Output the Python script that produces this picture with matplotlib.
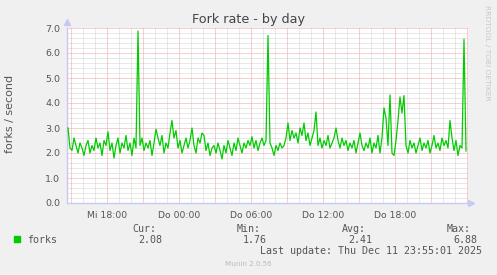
import matplotlib
matplotlib.use("Agg")
import matplotlib.pyplot as plt
import numpy as np

# ---- data -------------------------------------------------------------
title = "Fork rate - by day"
ylabel = "forks / second"
series_name = "forks"
# 10-minute samples, last sample at Thu 23:55 (hours since Wed 00:00)
last_time_h = 47 + 55 / 60
sample_step_h = 1 / 6
forks = [
    3.0, 2.2, 2.1, 2.6, 2.3, 2.0, 2.4, 2.2, 1.9, 2.3,
    2.5, 2.0, 2.3, 2.1, 2.6, 2.2, 2.4, 1.9, 2.5, 2.3,
    2.85, 2.1, 2.4, 1.8, 2.3, 2.6, 2.0, 2.4, 2.2, 2.7,
    2.1, 2.4, 1.9, 2.6, 2.2, 6.88, 2.3, 2.6, 2.1, 2.4,
    2.2, 2.5, 1.9, 2.4, 2.95, 2.6, 2.3, 2.7, 2.0, 2.4,
    2.2, 2.8, 3.3, 2.6, 2.9, 2.2, 2.5, 2.0, 2.3, 2.6,
    2.2, 2.5, 3.0, 2.3, 2.0, 2.6, 2.4, 2.8, 2.7, 2.1,
    2.4, 1.9, 2.2, 2.3, 2.0, 2.4, 2.1, 1.76, 2.3, 2.0,
    2.5, 2.2, 1.9, 2.4, 2.1, 2.6, 2.3, 2.0, 2.4, 2.2,
    2.5, 2.3, 2.65, 2.2, 2.5, 2.1, 2.4, 2.6, 2.3, 2.5,
    6.7, 2.4, 2.2, 1.9, 2.3, 2.1, 2.4, 2.2, 2.3, 2.6,
    3.2, 2.5, 2.9, 2.6, 2.8, 2.4, 3.0, 2.7, 3.2, 2.5,
    2.8, 2.3, 2.6, 2.9, 3.64, 2.3, 2.6, 2.2, 2.5, 2.3,
    2.7, 2.2, 2.4, 2.6, 3.0, 2.5, 2.2, 2.6, 2.3, 2.5,
    2.1, 2.4, 2.2, 2.5, 2.0, 2.4, 2.8, 2.3, 2.1, 2.4,
    2.2, 2.6, 2.0, 2.4, 2.2, 2.7, 2.0, 2.6, 3.8, 3.4,
    2.3, 4.32, 2.0, 1.9, 2.5, 3.3, 4.24, 3.6, 4.3, 2.3,
    2.0, 2.5, 2.2, 2.4, 2.0, 2.3, 2.6, 2.1, 2.4, 2.2,
    2.5, 2.0, 2.3, 2.7, 2.2, 2.4, 2.1, 2.6, 2.3, 2.5,
    2.2, 3.3, 2.6, 2.1, 2.5, 1.9, 2.3, 2.2, 6.55, 2.08,
]
x_tick_hours = [18, 24, 30, 36, 42]
x_tick_labels = ["Mi 18:00", "Do 00:00", "Do 06:00", "Do 12:00", "Do 18:00"]
y_ticks = [0, 1, 2, 3, 4, 5, 6, 7]
stat_labels = ["Cur:", "Min:", "Avg:", "Max:"]
stat_values = ["2.08", "1.76", "2.41", "6.88"]
last_update = "Last update: Thu Dec 11 23:55:01 2025"
footer = "Munin 2.0.56"
side_text = "RRDTOOL / TOBI OETIKER"

# ---- figure -----------------------------------------------------------
W, H = 497, 275
fig = plt.figure(figsize=(W / 100, H / 100), dpi=100, facecolor="#F0F0F0")
L, R, T, B = 67, 468, 28, 203
ax = fig.add_axes([L / W, 1 - B / H, (R - L) / W, (B - T) / H])
ax.set_facecolor("white")

n = len(forks)
t = np.array([last_time_h - (n - 1 - i) * sample_step_h for i in range(n)])
x0 = 18 - (107 - L) / 12
x1 = x0 + (R - L) / 12
ax.set_xlim(x0, x1)
ax.set_ylim(0, 7)

txt = "#555555"
minor_c = "#D2D2D2"
major_c = "#F0A0A0"
dot = (0, (1, 1))

# grid lines
for yv in np.arange(0, 7.01, 0.2):
    if abs(yv - round(yv)) > 1e-6:
        ax.axhline(yv, color=minor_c, lw=0.72, ls=dot, zorder=1)
for hv in range(int(np.ceil(x0)), int(x1) + 1):
    if hv % 3 != 0:
        ax.axvline(hv, color=minor_c, lw=0.72, ls=dot, zorder=1)
for yv in y_ticks[1:]:
    ax.axhline(yv, color=major_c, lw=0.72, ls=dot, zorder=2)
for hv in range(int(np.ceil(x0)), int(x1) + 1):
    if hv % 3 == 0:
        ax.axvline(hv, color=major_c, lw=0.72, ls=dot, zorder=2)

ax.plot(t, forks, color="#00CC00", lw=0.9, zorder=5)

# axes styling
for s in ["top", "right"]:
    ax.spines[s].set_visible(False)
for s in ["left", "bottom"]:
    ax.spines[s].set_color("#C8C8F4")
    ax.spines[s].set_linewidth(1.0)
ax.plot([0], [1.035], marker="^", color="#C8C8F4", ms=4, transform=ax.transAxes, clip_on=False)
ax.plot([1.008], [0], marker=">", color="#C8C8F4", ms=4, transform=ax.transAxes, clip_on=False)

ax.set_xticks(x_tick_hours)
ax.set_xticklabels(x_tick_labels, fontsize=6.7, color=txt)
ax.set_yticks(y_ticks)
ax.set_yticklabels([f"{v:.1f}" for v in y_ticks], fontsize=6.8, color=txt)
ax.tick_params(axis="both", length=0, pad=5)
ax.tick_params(axis="x", pad=5.5)

fig.text(248 / W, 1 - 19 / H, title, fontsize=9.2, color="#444444", ha="center", va="center")
fig.text(10 / W, 1 - 114 / H, ylabel, fontsize=8, color=txt, rotation=90, ha="center", va="center")
fig.text(487 / W, 1 - 5 / H, side_text, fontsize=5.4, color="#C8C8C8", rotation=270, ha="center", va="top")

mono = "DejaVu Sans Mono"
fig.patches.append(plt.Rectangle((14 / W, 1 - 242 / H), 6 / W, 6 / H, transform=fig.transFigure,
                                 color="#00CC00", figure=fig))
fig.text(27 / W, 1 - 240 / H, series_name, fontsize=7.2, family=mono, color=txt, ha="left", va="center")
lab_x = [132, 237, 342, 447]
for lx, lab, val in zip(lab_x, stat_labels, stat_values):
    fig.text(lx / W, 1 - 228.5 / H, lab, fontsize=7.2, family=mono, color=txt, ha="left", va="center")
    fig.text((lx + 6) / W, 1 - 240 / H, val, fontsize=7.2, family=mono, color=txt, ha="left", va="center")
fig.text(482 / W, 1 - 251.5 / H, last_update, fontsize=7.2, family=mono, color=txt, ha="right", va="center")
fig.text(248 / W, 1 - 264 / H, footer, fontsize=5.1, color="#BBBBBB", ha="center", va="center")

fig.savefig("out.png", dpi=100, facecolor=fig.get_facecolor())
